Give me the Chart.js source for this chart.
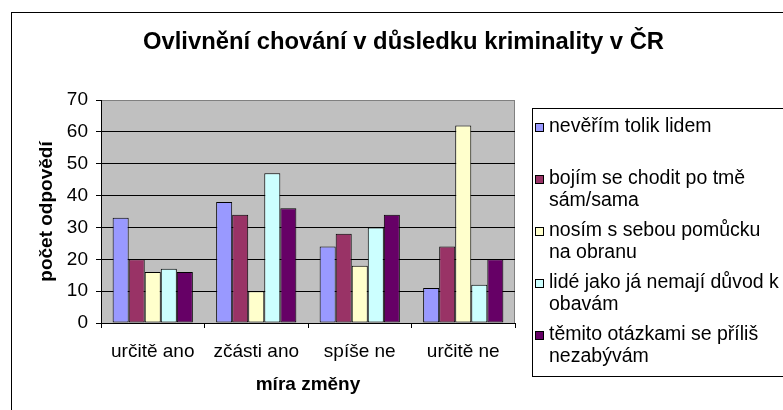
<!DOCTYPE html>
<html>
<head>
<meta charset="utf-8">
<title>Ovlivnění chování v důsledku kriminality v ČR</title>
<script src="https://cdn.jsdelivr.net/npm/chart.js@4/dist/chart.umd.min.js"></script>
<style>
  html, body { margin: 0; padding: 0; background: #fff; }
  canvas { display: block; }
</style>
</head>
<body>
<canvas id="crimeChart" width="783" height="410"></canvas>
<script>
// data z grafu
const chartTitle = 'Ovlivnění chování v důsledku kriminality v ČR';
const categories = ['určitě ano', 'zčásti ano', 'spíše ne', 'určitě ne'];
const yTicks = [0, 10, 20, 30, 40, 50, 60, 70];

const seriesNames = [
    ['nevěřím tolik lidem'],
    ['bojím se chodit po tmě', 'sám/sama'],
    ['nosím s sebou pomůcku', 'na obranu'],
    ['lidé jako já nemají důvod k', 'obavám'],
    ['těmito otázkami se příliš', 'nezabývám']
];
const neverimValues = [33, 38, 24, 11];
const bojimValues = [20, 34, 28, 24];
const nosimValues = [16, 10, 18, 62];
const lideValues = [17, 47, 30, 12];
const temitoValues = [16, 36, 34, 20];

const seriesColors = ['#9999FF', '#993366', '#FFFFCC', '#CCFFFF', '#660066'];

const FONT = '"Liberation Sans", Arial, sans-serif';

// pozadí plochy grafu, rámeček kolem celého grafu a nadpis
const plotBackground = {
    id: 'plotBackground',
    beforeDraw(chart) {
        const { ctx, chartArea: a } = chart;
        ctx.save();
        ctx.fillStyle = '#C0C0C0';
        ctx.fillRect(a.left, a.top, a.right - a.left, a.bottom - a.top);
        ctx.strokeStyle = '#808080';
        ctx.lineWidth = 1;
        ctx.strokeRect(a.left + 0.5, a.top + 0.5, a.right - a.left - 1, a.bottom - a.top);
        ctx.strokeStyle = '#000';
        ctx.strokeRect(11.5, 12.5, 820, 520);
        // nadpis - centrovaný přes celý graf (včetně legendy)
        ctx.fillStyle = '#000';
        ctx.font = 'bold 23.8px ' + FONT;
        ctx.textAlign = 'center';
        ctx.textBaseline = 'middle';
        ctx.fillText(chartTitle, 403.5, 42);
        ctx.restore();
    }
};

// legenda vpravo (víceřádkové popisky)
const boxLegend = {
    id: 'boxLegend',
    afterDraw(chart) {
        const { ctx } = chart;
        const left = 532, top = 108, bottom = 376;
        const firstY = 127, pitch = 52, lineH = 22;
        ctx.save();
        ctx.fillStyle = '#fff';
        ctx.strokeStyle = '#000';
        ctx.lineWidth = 1;
        ctx.fillRect(left + 0.5, top + 0.5, 400, bottom - top);
        ctx.strokeRect(left + 0.5, top + 0.5, 400, bottom - top);
        ctx.font = '19.5px ' + FONT;
        ctx.textBaseline = 'middle';
        ctx.textAlign = 'left';
        chart.data.datasets.forEach((ds, i) => {
            const y = firstY + i * pitch;
            ctx.fillStyle = ds.backgroundColor;
            ctx.fillRect(535.5, Math.round(y - 4) + 0.5, 8, 8);
            ctx.strokeStyle = '#000';
            ctx.strokeRect(535.5, Math.round(y - 4) + 0.5, 8, 8);
            ctx.fillStyle = '#000';
            seriesNames[i].forEach((line, j) => {
                ctx.fillText(line, 549, y + j * lineH);
            });
        });
        ctx.restore();
    }
};

const allValues = [neverimValues, bojimValues, nosimValues, lideValues, temitoValues];

const datasets = allValues.map((vals, i) => ({
    label: seriesNames[i].join(' '),
    data: vals,
    backgroundColor: seriesColors[i],
    borderColor: '#000',
    borderWidth: 1,
    borderSkipped: false,
    categoryPercentage: 0.775,
    barPercentage: 1
}));

const ctx = document.getElementById('crimeChart').getContext('2d');
new Chart(ctx, {
    type: 'bar',
    data: { labels: categories, datasets: datasets },
    options: {
        responsive: false,
        animation: false,
        devicePixelRatio: 1,
        layout: { padding: { left: 0, right: 268, top: 100, bottom: 0 } },
        scales: {
            x: {
                afterFit(scale) { scale.height = 87; },
                grid: {
                    display: true,
                    drawOnChartArea: false,
                    drawTicks: true,
                    tickLength: 5,
                    tickColor: '#000',
                    offset: true
                },
                border: { color: '#000', width: 1 },
                ticks: {
                    color: '#000',
                    padding: 12,
                    font: { size: 19, family: FONT }
                },
                title: {
                    display: true,
                    text: 'míra změny',
                    color: '#000',
                    font: { size: 19, weight: 'bold', family: FONT },
                    padding: { top: 0, bottom: 14 }
                }
            },
            y: {
                min: 0,
                max: 70,
                afterFit(scale) { scale.width = 101; },
                afterBuildTicks(scale) {
                    scale.ticks = yTicks.map(v => ({ value: v }));
                },
                grid: {
                    color: (c) => (c.tick && c.tick.value === 70) ? '#808080' : '#000',
                    tickColor: '#000',
                    tickLength: 5
                },
                border: { color: '#000', width: 1 },
                ticks: {
                    color: '#000',
                    padding: 8,
                    font: { size: 19, family: FONT }
                },
                title: {
                    display: true,
                    text: 'počet odpovědí',
                    color: '#000',
                    font: { size: 19, weight: 'bold', family: FONT },
                    padding: { top: 35, bottom: 0 }
                }
            }
        },
        plugins: {
            legend: { display: false },
            tooltip: { enabled: false },
            title: { display: false }
        }
    },
    plugins: [plotBackground, boxLegend]
});
</script>
</body>
</html>
